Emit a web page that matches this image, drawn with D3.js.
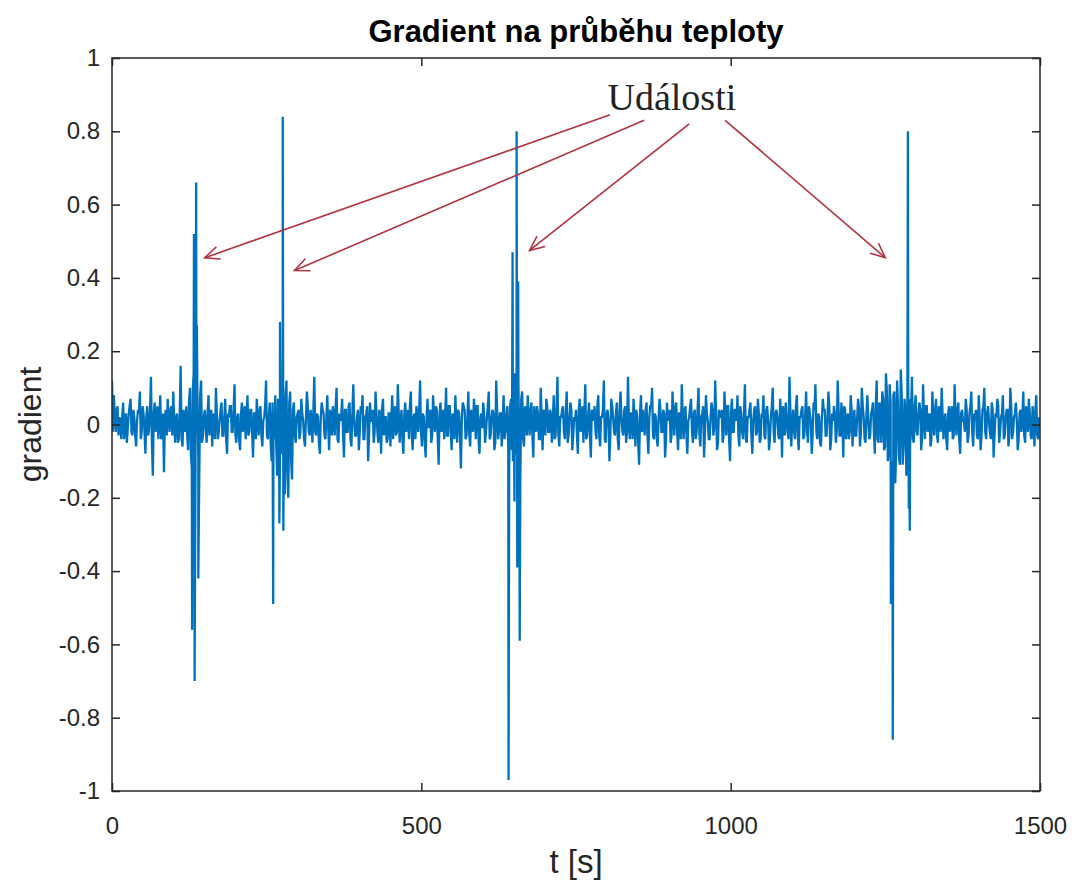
<!DOCTYPE html>
<html lang="cs">
<head>
<meta charset="UTF-8">
<title>Gradient na průběhu teploty</title>
<script src="https://cdnjs.cloudflare.com/ajax/libs/d3/7.8.5/d3.min.js"></script>
<style>
  body { margin: 0; background: #fff; }
  svg { display: block; }
  .tick text { font-family: Arial, "Liberation Sans", sans-serif; fill: #262626; }
</style>
</head>
<body>
<div id="chart"></div>
<script>
// noise of the gradient, one sample every 3 s (t = 0 .. 1497)
var sampleStep = 3;
var noise = [
  0.12,0.08,-0.02,0.05,0.02,-0.04,0.06,0.01,-0.05,0.03,
  0.07,-0.03,0.02,-0.06,0.04,0.09,-0.02,0.03,-0.08,0.05,
  -0.01,0.13,-0.14,0.06,0.02,-0.04,0.08,-0.03,-0.13,0.04,
  0.07,-0.02,0.05,0.09,-0.05,0.03,-0.04,0.16,-0.06,0.02,
  0.05,-0.07,0.10,-0.12,0.14,-0.10,0.09,-0.15,0.12,-0.03,

  0.04,-0.05,0.08,0.02,-0.06,0.03,0.10,-0.04,0.01,0.06,
  -0.03,0.07,-0.08,0.02,0.05,-0.02,0.11,-0.05,0.03,-0.07,
  0.06,0.01,-0.04,0.08,-0.02,0.04,-0.09,0.03,0.07,-0.03,
  0.05,-0.06,0.02,0.12,-0.04,0.06,-0.10,0.03,0.08,-0.14,
  0.05,-0.08,0.10,-0.17,0.12,-0.20,0.09,-0.15,0.06,-0.05,

  0.03,-0.04,0.07,0.01,-0.06,0.09,-0.02,0.04,-0.05,0.13,
  -0.03,0.02,-0.08,0.06,0.03,-0.04,0.08,-0.07,0.02,0.05,
  -0.03,0.10,-0.05,0.01,0.07,-0.09,0.04,-0.02,0.06,-0.06,
  0.11,-0.03,0.02,-0.07,0.05,0.08,-0.04,0.03,-0.10,0.06,
  0.01,-0.05,0.09,-0.02,0.04,-0.08,0.07,0.02,-0.05,0.03,

  -0.06,0.08,0.02,-0.03,0.11,-0.05,0.04,-0.08,0.06,0.01,
  -0.04,0.09,-0.07,0.03,0.05,-0.02,0.12,-0.06,0.02,-0.09,
  0.07,0.03,-0.05,0.08,-0.02,0.04,-0.11,0.06,0.01,-0.04,
  0.10,-0.03,0.05,-0.07,0.02,0.08,-0.05,0.03,-0.12,0.06,
  0.04,-0.03,0.09,-0.06,0.02,0.07,-0.04,0.05,-0.08,0.03,

  0.06,-0.05,0.02,0.09,-0.03,0.04,-0.07,0.12,-0.04,0.03,
  -0.06,0.08,-0.02,0.05,-0.12,0.07,-0.10,0.14,-0.08,0.11,
  -0.15,0.09,-0.06,0.04,0.08,-0.03,0.06,-0.09,0.02,0.05,
  -0.04,0.10,-0.07,0.03,0.07,-0.02,0.04,-0.05,0.08,-0.03,
  0.13,-0.06,0.02,0.05,-0.04,0.09,-0.03,0.06,-0.07,0.02,

  0.04,-0.08,0.07,0.01,-0.05,0.11,-0.03,0.06,-0.09,0.03,
  0.05,-0.04,0.08,-0.06,0.02,0.12,-0.05,0.04,-0.10,0.07,
  0.02,-0.03,0.06,-0.07,0.09,-0.02,0.04,-0.05,0.13,-0.04,
  0.03,0.07,-0.06,0.02,-0.11,0.08,0.04,-0.03,0.06,-0.08,
  0.05,0.10,-0.04,0.02,-0.06,0.07,-0.02,0.04,-0.09,0.06,

  0.02,-0.05,0.09,-0.03,0.06,-0.07,0.03,0.11,-0.04,0.05,
  -0.08,0.02,0.07,-0.05,0.04,-0.02,0.10,-0.06,0.03,-0.09,
  0.08,0.01,-0.04,0.06,-0.03,0.12,-0.07,0.04,0.02,-0.05,
  0.09,-0.03,0.05,-0.10,0.07,-0.02,0.04,0.08,-0.06,0.03,
  -0.04,0.11,-0.05,0.02,0.06,-0.08,0.04,-0.03,0.07,-0.05,

  0.03,0.08,-0.04,0.05,-0.07,0.02,0.10,-0.05,0.04,-0.03,
  0.07,-0.09,0.03,0.06,-0.02,0.13,-0.06,0.04,-0.04,0.08,
  -0.07,0.02,0.05,-0.03,0.09,-0.05,0.03,-0.08,0.06,0.11,
  -0.04,0.02,-0.06,0.07,0.04,-0.03,0.09,-0.07,0.03,0.05,
  -0.05,0.12,-0.03,0.06,-0.09,0.04,0.02,-0.04,0.08,-0.06,

  0.04,-0.03,0.07,-0.06,0.10,0.02,-0.05,0.08,-0.04,0.03,
  0.06,-0.08,0.12,-0.05,0.04,0.09,-0.07,0.14,-0.10,0.11,
  -0.13,0.08,-0.16,0.12,-0.09,0.15,-0.11,0.07,-0.14,0.10,
  -0.06,0.13,-0.05,0.08,-0.03,0.06,-0.07,0.11,-0.04,0.05,
  0.02,-0.06,0.09,-0.03,0.07,-0.05,0.04,0.10,-0.04,0.03,

  -0.07,0.05,0.02,-0.04,0.11,-0.03,0.06,-0.08,0.04,0.01,
  0.07,-0.05,0.03,0.09,-0.06,0.02,-0.03,0.08,-0.07,0.04,
  0.10,-0.04,0.05,-0.02,0.06,-0.09,0.03,0.07,-0.05,0.02,
  0.08,-0.03,0.04,-0.06,0.10,-0.04,0.02,0.06,-0.07,0.03,
  -0.02,0.09,-0.05,0.04,0.07,-0.03,0.05,-0.06,0.08,-0.04
];

// in-between samples, t = 1.5 + 3*i
var noiseMid = [
  -0.02,0.03,0.04,-0.03,0.01,0.02,-0.04,0.03,-0.01,0.05,
  -0.02,0.04,-0.03,0.01,0.03,-0.04,0.05,-0.02,0.02,-0.03,
  0.04,-0.05,0.03,-0.02,0.05,0.01,-0.04,0.03,0.02,-0.03,
  0.02,0.04,-0.03,0.01,0.02,-0.05,0.03,-0.04,0.04,-0.02,
  -0.03,0.06,-0.08,0.09,-0.07,0.06,-0.09,0.08,-0.05,0.02,

  -0.01,0.03,-0.03,0.04,0.02,-0.04,0.03,-0.02,0.04,-0.03,
  0.02,-0.04,0.03,0.05,-0.02,0.04,-0.03,0.02,-0.04,0.03,
  -0.02,0.05,0.01,-0.03,0.04,-0.02,0.03,-0.04,0.02,0.04,
  -0.03,0.01,0.05,-0.03,0.02,-0.05,0.06,-0.04,-0.06,0.07,
  -0.09,0.05,-0.11,0.08,-0.13,0.06,-0.10,0.04,-0.03,0.02,

  0.04,-0.02,0.03,-0.04,0.02,0.05,-0.03,0.01,0.04,-0.02,
  0.03,-0.05,0.02,0.04,-0.03,0.02,-0.01,0.04,-0.03,0.02,
  0.05,-0.04,0.03,0.02,-0.03,0.04,-0.02,0.05,-0.04,0.03,
  0.01,-0.03,0.04,-0.02,0.03,-0.04,0.02,0.05,-0.03,0.01,
  0.04,-0.02,0.03,-0.05,0.02,0.04,-0.03,0.02,-0.04,0.03,

  0.02,-0.04,0.05,-0.02,0.03,0.01,-0.04,0.03,-0.02,0.04,
  0.05,-0.03,0.02,-0.04,0.03,0.04,-0.02,0.03,-0.05,0.02,
  -0.01,0.04,-0.03,0.02,0.05,-0.04,0.03,-0.02,0.04,0.02,
  -0.03,0.05,-0.02,0.03,-0.04,0.01,0.04,-0.03,0.02,0.05,
  -0.04,0.02,-0.03,0.04,-0.02,0.03,0.05,-0.04,0.02,-0.01,

  0.03,-0.02,0.05,-0.04,0.02,0.03,-0.05,0.04,-0.02,0.03,
  0.01,-0.04,0.03,-0.06,0.05,-0.07,0.08,-0.05,0.06,-0.09,
  0.07,-0.04,0.05,-0.03,0.02,0.04,-0.03,0.05,-0.02,0.03,
  -0.04,0.02,0.04,-0.03,0.05,-0.02,0.03,0.01,-0.04,0.05,
  -0.03,0.02,0.04,-0.02,0.03,-0.05,0.02,0.04,-0.03,0.01,

  -0.03,0.04,-0.02,0.05,0.03,-0.04,0.02,-0.03,0.04,0.01,
  -0.02,0.05,-0.03,0.02,0.04,-0.04,0.03,0.01,-0.03,0.05,
  -0.02,0.03,-0.04,0.04,0.02,-0.03,0.05,-0.02,0.01,0.03,
  -0.04,0.02,0.04,-0.05,0.03,-0.02,0.01,0.04,-0.03,0.02,
  0.05,-0.03,0.03,-0.04,0.02,0.04,-0.02,0.03,-0.04,0.01,

  0.04,-0.03,0.02,0.05,-0.02,0.03,-0.04,0.02,0.04,-0.03,
  0.01,0.05,-0.02,0.03,-0.04,0.04,-0.03,0.02,0.05,-0.02,
  0.03,-0.04,0.02,0.04,-0.01,0.03,-0.05,0.02,0.04,-0.03,
  0.02,0.05,-0.04,0.03,-0.02,0.04,0.01,-0.03,0.05,-0.02,
  0.03,-0.04,0.02,0.04,-0.03,0.01,0.05,-0.02,0.03,-0.04,

  0.02,-0.03,0.04,0.01,-0.04,0.05,-0.02,0.03,0.02,-0.04,
  0.03,0.05,-0.03,0.02,-0.04,0.04,0.01,-0.02,0.05,-0.03,
  0.02,0.04,-0.04,0.03,-0.02,0.05,0.01,-0.03,0.04,-0.02,
  0.03,-0.05,0.02,0.04,-0.03,0.02,0.05,-0.04,0.01,0.03,
  -0.02,0.04,-0.03,0.02,0.05,-0.04,0.03,-0.02,0.04,0.01,

  -0.03,0.02,0.04,-0.02,0.05,-0.04,0.03,0.01,-0.03,0.04,
  -0.02,0.05,-0.04,0.06,-0.05,0.07,-0.06,0.09,-0.08,0.06,
  -0.10,0.09,-0.07,0.05,-0.11,0.08,-0.06,0.04,-0.05,0.07,
  0.02,-0.04,0.05,-0.02,0.03,0.04,-0.03,0.02,0.05,-0.02,
  0.03,-0.04,0.02,0.04,-0.03,0.05,-0.02,0.03,0.01,-0.04,

  0.03,-0.02,0.05,-0.03,0.02,0.04,-0.04,0.03,0.01,-0.02,
  0.04,-0.03,0.05,-0.02,0.03,0.04,-0.04,0.02,-0.03,0.05,
  -0.02,0.03,0.01,-0.04,0.04,-0.03,0.02,0.05,-0.02,0.03,
  -0.04,0.02,0.04,-0.03,0.05,-0.02,0.03,0.01,-0.04,0.04,
  0.02,-0.03,0.05,-0.02,0.03,-0.04,0.02,0.04,-0.03,0.02
];

// spikes of the four events (t in s, gradient)
var eventT = [129.5,132.5,133.5,136,137.2,139.5,
              260.5,270.5,271.5,276,277,279.5,
              641,647.5,650.5,654,655,656.5,659,
              1259,1262,1286.5,1288,1289.5];
var eventV = [-0.56,0.52,-0.70,0.66,0.27,-0.42,
              -0.49,-0.27,0.28,0.84,-0.29,-0.19,
              -0.97,0.47,-0.21,0.80,-0.39,0.39,-0.59,
              -0.49,-0.86,0.80,-0.23,-0.29];

var xTicks = [0, 500, 1000, 1500];
var yTicks = [-1, -0.8, -0.6, -0.4, -0.2, 0, 0.2, 0.4, 0.6, 0.8, 1];

// annotation: label and the points the arrows go to
var annoText = "Události";
var annoAt = [905, 0.858];
var arrowFrom = [[805, 0.845], [860, 0.83], [933, 0.82], [991, 0.83]];
var arrowTo = [[150, 0.455], [295, 0.42], [675, 0.475], [1250, 0.455]];

var W = 1076, H = 880;
var margin = {top: 58, right: 36, bottom: 89, left: 112};

var svg = d3.select("#chart").append("svg")
    .attr("width", W).attr("height", H);

var x = d3.scaleLinear().domain([0, 1500]).range([margin.left, W - margin.right]);
var y = d3.scaleLinear().domain([-1, 1]).range([H - margin.bottom, margin.top]);

var series = noise.map(function (v, i) { return {t: i * sampleStep, v: v}; })
    .concat(noiseMid.map(function (v, i) { return {t: i * sampleStep + sampleStep / 2, v: v}; }))
    .concat(eventT.map(function (t, i) { return {t: t, v: eventV[i]}; }))
    .sort(function (a, b) { return a.t - b.t; });

svg.append("defs").append("clipPath").attr("id", "clip")
  .append("rect")
    .attr("x", margin.left).attr("y", margin.top)
    .attr("width", W - margin.left - margin.right)
    .attr("height", H - margin.top - margin.bottom);

var line = d3.line().x(function (d) { return x(d.t); }).y(function (d) { return y(d.v); });

svg.append("path")
    .datum(series)
    .attr("clip-path", "url(#clip)")
    .attr("fill", "none")
    .attr("stroke", "#0072BD")
    .attr("stroke-width", 2.3)
    .attr("stroke-linejoin", "miter")
    .attr("d", line);

// axes, ticks inward like matlab
var tickLen = 8;
var fmt = function (d) { return String(+d.toFixed(1)); };

var xAxisB = svg.append("g")
    .attr("transform", "translate(0," + (H - margin.bottom) + ")")
    .call(d3.axisBottom(x).tickValues(xTicks).tickSize(-tickLen).tickPadding(26).tickFormat(d3.format("d")));
var xAxisT = svg.append("g")
    .attr("transform", "translate(0," + margin.top + ")")
    .call(d3.axisTop(x).tickValues(xTicks).tickSize(-tickLen).tickFormat(""));
var yAxisL = svg.append("g")
    .attr("transform", "translate(" + margin.left + ",0)")
    .call(d3.axisLeft(y).tickValues(yTicks).tickSize(-tickLen).tickPadding(12).tickFormat(fmt));
var yAxisR = svg.append("g")
    .attr("transform", "translate(" + (W - margin.right) + ",0)")
    .call(d3.axisRight(y).tickValues(yTicks).tickSize(-tickLen).tickFormat(""));

[xAxisB, xAxisT, yAxisL, yAxisR].forEach(function (g) {
  g.select(".domain").remove();
  g.selectAll(".tick line").attr("stroke", "#262626").attr("stroke-width", 1.5);
  g.selectAll(".tick text").style("font-size", "24px");
});

svg.append("rect")
    .attr("x", margin.left).attr("y", margin.top)
    .attr("width", W - margin.left - margin.right)
    .attr("height", H - margin.top - margin.bottom)
    .attr("fill", "none").attr("stroke", "#262626").attr("stroke-width", 1.5);

// title and axis labels
svg.append("text")
    .attr("x", (margin.left + W - margin.right) / 2).attr("y", 42)
    .attr("text-anchor", "middle")
    .style("font-family", "Arial, 'Liberation Sans', sans-serif")
    .style("font-weight", "bold").style("font-size", "31px").style("fill", "#000")
    .text("Gradient na průběhu teploty");

svg.append("text")
    .attr("x", (margin.left + W - margin.right) / 2).attr("y", 873)
    .attr("text-anchor", "middle")
    .style("font-family", "Arial, 'Liberation Sans', sans-serif")
    .style("font-size", "33px").style("fill", "#262626")
    .text("t [s]");

svg.append("text")
    .attr("transform", "translate(41," + y(0) + ") rotate(-90)")
    .attr("text-anchor", "middle")
    .style("font-family", "Arial, 'Liberation Sans', sans-serif")
    .style("font-size", "32px").style("fill", "#262626")
    .text("gradient");

// annotation with arrows
var red = "#b2323f";
svg.append("text")
    .attr("x", x(annoAt[0])).attr("y", y(annoAt[1]))
    .attr("text-anchor", "middle")
    .style("font-family", "'Times New Roman', 'Liberation Serif', serif")
    .style("font-size", "38px").style("fill", "#222")
    .text(annoText);

var arrows = svg.append("g").attr("stroke", red).attr("stroke-width", 1.6).attr("fill", "none");
arrowFrom.forEach(function (f, i) {
  var x0 = x(f[0]), y0 = y(f[1]), x1 = x(arrowTo[i][0]), y1 = y(arrowTo[i][1]);
  var a = Math.atan2(y0 - y1, x0 - x1), L = 16, s = 0.42;
  arrows.append("line").attr("x1", x0).attr("y1", y0).attr("x2", x1).attr("y2", y1);
  arrows.append("path").attr("d",
    "M" + (x1 + L * Math.cos(a + s)) + "," + (y1 + L * Math.sin(a + s)) +
    "L" + x1 + "," + y1 +
    "L" + (x1 + L * Math.cos(a - s)) + "," + (y1 + L * Math.sin(a - s)));
});
</script>
</body>
</html>
